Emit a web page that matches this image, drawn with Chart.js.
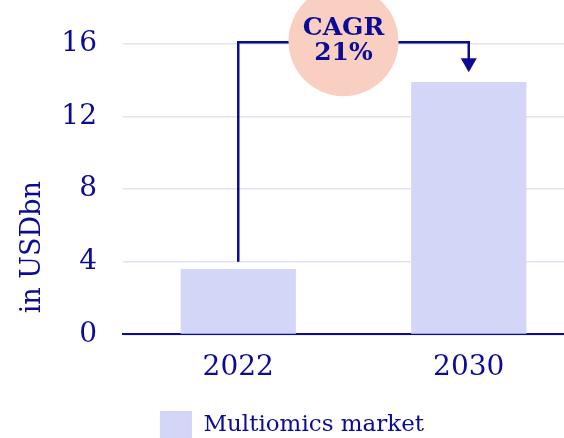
<!DOCTYPE html>
<html>
<head>
<meta charset="utf-8">
<script src="https://cdn.jsdelivr.net/npm/chart.js@4.4.1/dist/chart.umd.min.js"></script>
<style>
  html, body { margin: 0; padding: 0; background: #fff; overflow: hidden; }
  #wrap { width: 584px; height: 449px; position: relative; }
</style>
</head>
<body>
<div id="wrap"><canvas id="marketChart"></canvas></div>
<script>
// chart data
const years = ['2022', '2030'];
const marketValues = [3.6, 13.9];
const seriesName = 'Multiomics market';
const yTicks = [0, 4, 8, 12, 16];
const yTitle = 'in USDbn';
const cagrLabel = ['CAGR', '21%'];
const arrowFrom = 4;      // line starts at this value above 2022
const arrowTop = 16.1;    // horizontal line level
const arrowTo = 14.45;    // arrow tip above 2030

const navy = '#0b0b96';
const barColor = '#d4d6f8';
const serif = '"DejaVu Serif"';

// draws the CAGR bracket + bubble, and the y title
const cagrPlugin = {
    id: 'cagr',
    afterDraw(chart) {
        const c = chart.ctx;
        const xs = chart.scales.x, ys = chart.scales.y;
        const x1 = xs.getPixelForValue(0);
        const x2 = xs.getPixelForValue(1);
        const yStart = ys.getPixelForValue(arrowFrom);
        const yTop = ys.getPixelForValue(arrowTop);
        const yTip = ys.getPixelForValue(arrowTo);

        c.save();
        c.strokeStyle = navy;
        c.lineWidth = 2.5;
        c.beginPath();
        c.moveTo(x1, yStart);
        c.lineTo(x1, yTop);
        c.lineTo(x2, yTop);
        c.lineTo(x2, yTip - 12);
        c.stroke();

        // arrow head
        c.fillStyle = navy;
        c.beginPath();
        c.moveTo(x2 - 8, yTip - 14);
        c.lineTo(x2 + 8, yTip - 14);
        c.lineTo(x2, yTip);
        c.closePath();
        c.fill();

        // bubble
        const cx = (x1 + x2) / 2 - 10;
        c.fillStyle = '#f8cfc1';
        c.beginPath();
        c.arc(cx, yTop - 1, 55, 0, Math.PI * 2);
        c.fill();

        c.fillStyle = navy;
        c.font = 'bold 25px ' + serif;
        c.textAlign = 'center';
        c.textBaseline = 'middle';
        c.fillText(cagrLabel[0], cx, yTop - 14);
        c.fillText(cagrLabel[1], cx, yTop + 11);

        // y axis title (sits lower than the scale centre)
        c.translate(33, ys.getPixelForValue(4.8));
        c.rotate(-Math.PI / 2);
        c.font = '27px ' + serif;
        c.fillText(yTitle, 0, 0);
        c.restore();
    }
};

const ctx = document.getElementById('marketChart').getContext('2d');
const myChart = new Chart(ctx, {
    type: 'bar',
    data: {
        labels: years,
        datasets: [{
            label: seriesName,
            data: marketValues,
            backgroundColor: barColor,
            borderWidth: 0,
            barPercentage: 0.5,
            categoryPercentage: 1.0
        }]
    },
    options: {
        responsive: true,
        maintainAspectRatio: false,
        animation: false,
        layout: { padding: { top: 44, right: 0, left: 0, bottom: 0 } },
        plugins: {
            tooltip: { enabled: false },
            legend: {
                position: 'bottom',
                labels: {
                    color: navy,
                    font: { family: serif, size: 23 },
                    boxWidth: 32,
                    boxHeight: 28,
                    padding: 9
                }
            }
        },
        scales: {
            x: {
                grid: { display: false, drawTicks: false },
                border: { display: true, color: navy, width: 2 },
                ticks: {
                    color: navy,
                    font: { family: serif, size: 28 },
                    padding: 17
                }
            },
            y: {
                min: 0,
                max: 16,
                afterBuildTicks(scale) {
                    scale.ticks = yTicks.map(v => ({ value: v }));
                },
                afterFit(scale) {
                    scale.width = 123;
                },
                grid: { color: '#e2e2f8', lineWidth: 1.5, drawTicks: false },
                border: { display: false },
                ticks: {
                    color: navy,
                    font: { family: serif, size: 28 },
                    padding: 26
                }
            }
        }
    },
    plugins: [cagrPlugin]
});
</script>
</body>
</html>
